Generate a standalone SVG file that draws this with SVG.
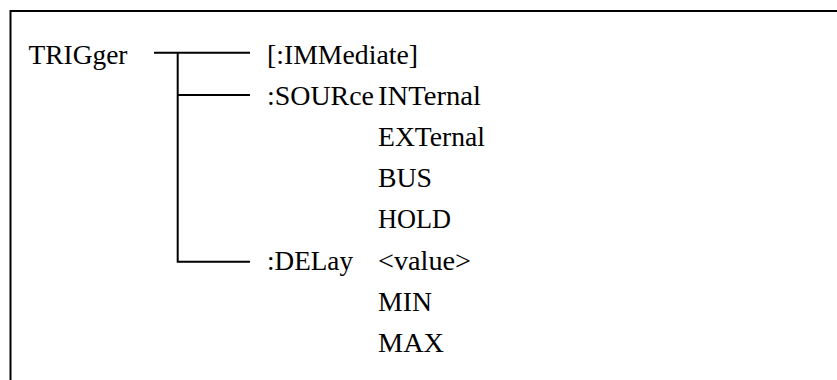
<svg xmlns="http://www.w3.org/2000/svg" width="837" height="380" viewBox="0 0 837 380">
  <style>
    text { font-family: "Liberation Serif", "Times New Roman", serif; font-size: 28px; fill: #000; }
    .ln { stroke: #000; stroke-width: 2; fill: none; }
    .frame { stroke: #000; stroke-width: 2; fill: none; }
  </style>
  <rect x="0" y="0" width="837" height="380" fill="#fff"/>
  <!-- outer frame (open at right and bottom) -->
  <path class="frame" d="M10.5 380 V11 H837"/>

  <g id="root">
    <text x="28.5" y="63.5" textLength="99" lengthAdjust="spacingAndGlyphs">TRIGger</text>
  </g>

  <g id="immediate">
    <text x="267" y="63.5" textLength="151" lengthAdjust="spacingAndGlyphs">[:IMMediate]</text>
  </g>

  <g id="source">
    <text x="267" y="104.7" textLength="107" lengthAdjust="spacingAndGlyphs">:SOURce</text>
    <text x="378" y="104.7" textLength="103" lengthAdjust="spacingAndGlyphs">INTernal</text>
    <text x="378" y="145.9" textLength="107" lengthAdjust="spacingAndGlyphs">EXTernal</text>
    <text x="378" y="187.1" textLength="54" lengthAdjust="spacingAndGlyphs">BUS</text>
    <text x="378" y="228.3" textLength="73" lengthAdjust="spacingAndGlyphs">HOLD</text>
  </g>

  <g id="delay">
    <text x="267" y="269.5" textLength="86" lengthAdjust="spacingAndGlyphs">:DELay</text>
    <text x="378" y="269.5" textLength="93" lengthAdjust="spacingAndGlyphs">&lt;value&gt;</text>
    <text x="378" y="310.7" textLength="54" lengthAdjust="spacingAndGlyphs">MIN</text>
    <text x="378" y="351.9" textLength="66" lengthAdjust="spacingAndGlyphs">MAX</text>
  </g>

  <g id="connectors">
    <path class="ln" d="M154 52.7 H250"/>
    <path class="ln" d="M177.7 52.7 V261.7 H250"/>
    <path class="ln" d="M177.7 95 H250"/>
  </g>
</svg>
